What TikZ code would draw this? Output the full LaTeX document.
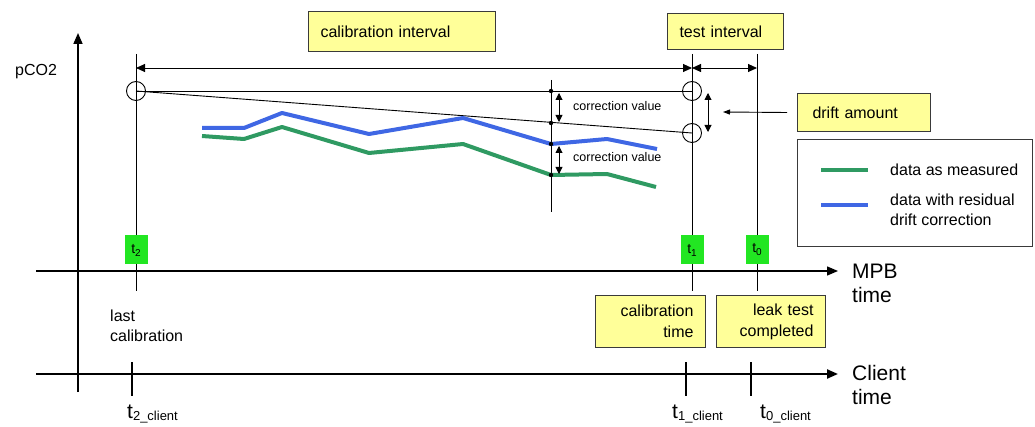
\documentclass[tikz,border=0pt]{standalone}
\usepackage{fontspec}
\setmainfont{Liberation Sans}
\usetikzlibrary{arrows.meta,positioning}
\definecolor{note}{HTML}{FFFF99}
\definecolor{noteline}{HTML}{3A3A3A}
\definecolor{tgreen}{HTML}{22E622}
\definecolor{measured}{HTML}{2F9A62}
\definecolor{corrected}{HTML}{3F67E4}
\newcommand{\tm}[1]{t\raisebox{-3pt}{\fontsize{10}{10}\selectfont #1}}
\newcommand{\tc}[1]{t\raisebox{-2pt}{\fontsize{13}{13}\selectfont #1\_client}}

\begin{document}
\begin{tikzpicture}[x=1pt,y=-1pt,
  lbl/.style={inner sep=0pt,font=\fontsize{16}{20}\selectfont},
  notebox/.style={draw=noteline,fill=note,line width=1pt,inner xsep=12pt,inner ysep=0pt,
    anchor=north west,font=\fontsize{16}{21}\selectfont},
  tbox/.style={fill=tgreen,minimum width=23pt,minimum height=29pt,inner sep=0pt,
    font=\fontsize{14}{14}\selectfont},
  axis/.style={line width=1.6pt,-{Triangle[length=11pt,width=9pt]}},
  guide/.style={line width=0.9pt},
  span/.style={guide,{Triangle[length=9pt,width=8pt]}-{Triangle[length=9pt,width=8pt]}},
  dim/.style={guide,{Triangle[length=7pt,width=7pt]}-{Triangle[length=7pt,width=7pt]}},
  data/.style={line width=4pt,line join=round}]
  \useasboundingbox (0,0) rectangle (1035,427);
  % axes
  \draw[axis] (78,392) -- (78,33);
  \draw[axis,line width=1.4pt] (36,271) -- (838,271);
  \draw[axis,line width=2.2pt] (36,374) -- (838,374);
  \node[lbl,anchor=west] (pco) at (15,72) {pCO2};
  \node[lbl,anchor=west,align=left,font=\fontsize{21}{24}\selectfont] (mpb) at (852,283) {MPB\\time};
  \node[lbl,anchor=west,align=left,font=\fontsize{21}{24}\selectfont] (cli) at (852,385) {Client\\time};
  % time marks
  \foreach \x/\n in {136/2,692/1,757/0}{
    \draw[guide] (\x,54) -- (\x,291);
    \node[tbox] (t\n) at (\x,250) {\tm{\n}};}
  \foreach \x in {132,686,751} \draw[guide,line width=1.2pt] (\x,362) -- (\x,396);
  \node[lbl,anchor=west,font=\fontsize{21}{21}\selectfont] (c2) at (127,414) {\tc{2}};
  \node[lbl,anchor=west,font=\fontsize{21}{21}\selectfont] (c1) at (672,414) {\tc{1}};
  \node[lbl,anchor=west,font=\fontsize{21}{21}\selectfont] (c0) at (760,414) {\tc{0}};
  \node[lbl,anchor=west,align=left] (last) at (110,326) {last\\calibration};
  % intervals
  \draw[span] (136,68) -- (692,68);
  \draw[span] (692,68) -- (757,68);
  \node[notebox,text width=163pt,minimum height=40pt] (calint) at (308,11) {calibration interval};
  \node[notebox,text width=92pt,minimum height=36pt] (testint) at (667,13) {test interval};
  \node[notebox,text width=86pt,minimum height=52pt,align=right] (caltime) at (595,295) {calibration\\time};
  \node[notebox,text width=85pt,minimum height=52pt,align=right] (leak) at (716,295) {leak test\\completed};
  % drift
  \draw[guide] (136,91) -- (692,91);
  \draw[guide] (136,91) -- (692,133);
  \draw[guide] (551,80) -- (551,212);
  \draw[data,corrected] (202,128) -- (244,128) -- (282,113) -- (369,134) -- (463,118) -- (551,144) -- (607,139) -- (657,149);
  \draw[data,measured] (202,136) -- (244,139) -- (282,127) -- (369,153) -- (463,144) -- (551,175) -- (607,174) -- (656,187);
  \foreach \y in {91,123,144,175} \fill (551,\y) circle (2.2pt);
  \foreach \y in {91,133} \draw[guide] (692,\y) circle (9.5pt);
  \draw[guide] (136,91) circle (9.5pt);
  \draw[dim] (559,93) -- (559,122);
  \draw[dim] (559,146) -- (559,174);
  \draw[dim] (708,93) -- (708,132);
  \node[lbl,anchor=west,font=\fontsize{12.5}{14}\selectfont] (cv1) at (573,106) {correction value};
  \node[lbl,anchor=west,font=\fontsize{12.5}{14}\selectfont] (cv2) at (573,157) {correction value};
  \node[notebox,inner xsep=15pt,text width=103pt,minimum height=38pt] (drift) at (797,93) {drift amount};
  \draw[guide,-{Triangle[length=7pt,width=5pt]}] ([xshift=-10pt]drift.west) -- (723,112);
  % legend
  \node[draw=noteline,line width=1.1pt,minimum width=235pt,minimum height=107pt,anchor=north west] (legend) at (797,139) {};
  \draw[data,measured] (821,170) -- (868,170);
  \draw[data,corrected] (821,205) -- (868,205);
  \node[lbl,anchor=west] (lgm) at (890,170) {data as measured};
  \node[lbl,anchor=west,align=left] (lgc) at (890,210) {data with residual\\drift correction};
\end{tikzpicture}
\end{document}
